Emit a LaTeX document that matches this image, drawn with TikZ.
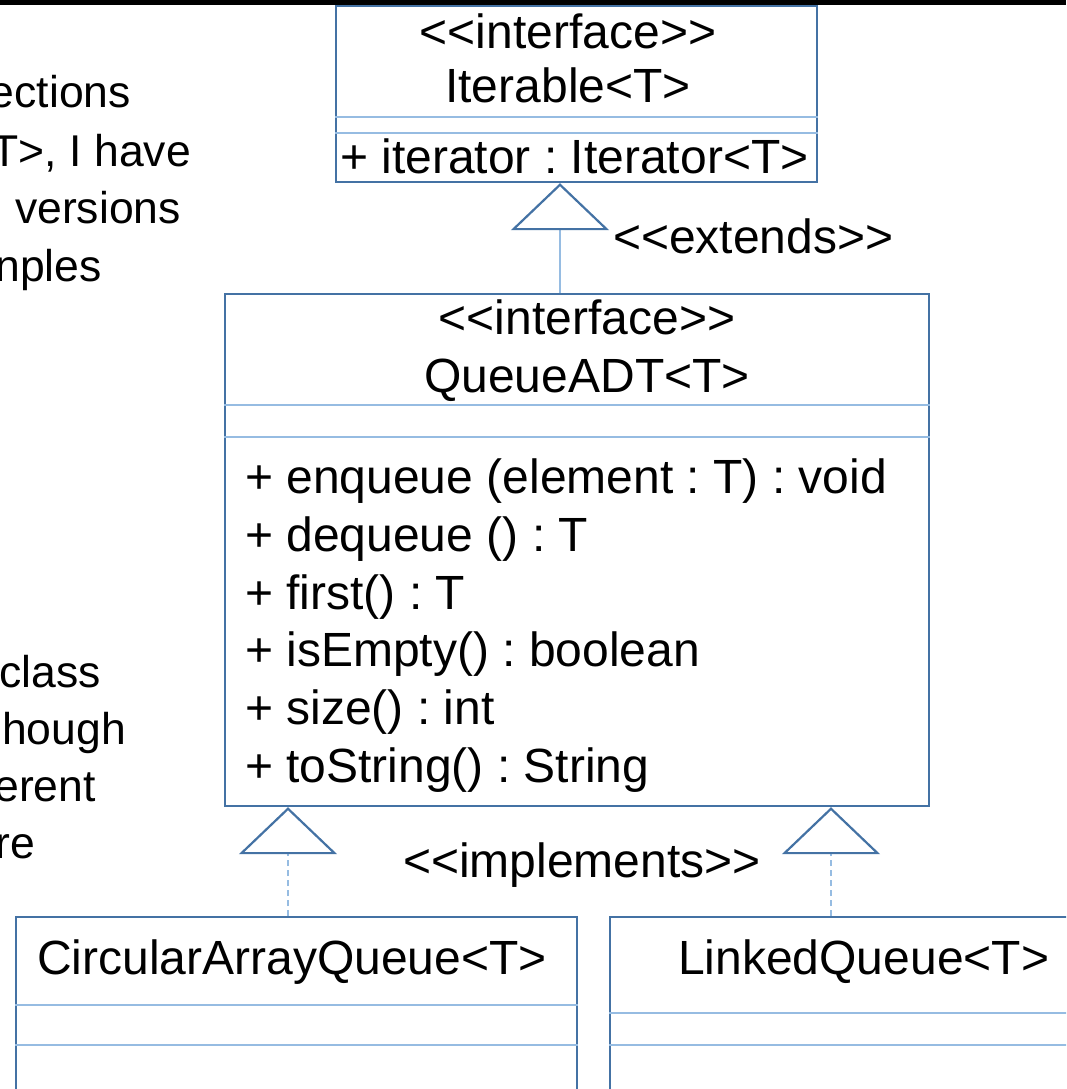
\documentclass[tikz,border=0pt]{standalone}
\usepackage{fontspec}
\setmainfont{Liberation Sans}
\usetikzlibrary{arrows.meta}
\definecolor{umlborder}{RGB}{68,114,164}
\definecolor{umlsep}{RGB}{150,188,226}
\frenchspacing
\begin{document}
\begin{tikzpicture}[x=1pt,y=-1pt,
  box/.style={draw=umlborder, line width=2.2pt, fill=white, rectangle, inner sep=0pt, anchor=north west},
  sepline/.style={draw=umlsep, line width=2pt},
  txt/.style={inner sep=0pt, font=\fontsize{48pt}{57.5pt}\selectfont},
  sidetxt/.style={inner sep=0pt, anchor=base east, font=\fontsize{44.5pt}{57.5pt}\selectfont},
  gen/.style={draw=umlsep, line width=2pt, -{Triangle[color=umlborder, fill=white, length=47pt, width=98pt, line width=2.2pt]}},
  real/.style={gen, dash pattern=on 6pt off 4pt, line width=1.5pt}
]
\useasboundingbox (0,0) rectangle (1066,1089);
\clip (0,0) rectangle (1066,1089);
\fill[white] (0,0) rectangle (1066,1089);
\fill[black] (0,0) rectangle (1066,5);

% left side text (cut off at the picture's edge)
\node[sidetxt] (l1) at (131,108) {ections};
\node[sidetxt] (l2) at (191,166) {T>, I have};
\node[sidetxt] (l3) at (181,223) {versions};
\node[sidetxt] (l4) at (102,281) {nples};
\node[sidetxt] (l5) at (101,687) {class};
\node[sidetxt] (l6) at (126,744) {hough};
\node[sidetxt] (l7) at (96,801) {erent};
\node[sidetxt] (l8) at (35,858) {re};

% Iterable
\node[box, minimum width=481pt, minimum height=176pt] (iter) at (335,5) {};
\coordinate (i1) at (0,117);
\coordinate (i2) at (0,133);
\draw[sepline] (iter.west |- i1) -- (iter.east |- i1);
\draw[sepline] (iter.west |- i2) -- (iter.east |- i2);
\node[txt, anchor=base] (is) at (568,49) {<{}<interface>{}>};
\node[txt, anchor=base] (in) at (568,103) {Iterable<T>};
\node[txt, anchor=base west] (im) at (340,173) {+ iterator : Iterator<T>};

% QueueADT
\node[box, minimum width=704pt, minimum height=512pt] (queue) at (224,293) {};
\coordinate (q1) at (0,405);
\coordinate (q2) at (0,437);
\draw[sepline] (queue.west |- q1) -- (queue.east |- q1);
\draw[sepline] (queue.west |- q2) -- (queue.east |- q2);
\node[txt, anchor=base] (qs) at (587,334) {<{}<interface>{}>};
\node[txt, anchor=base] (qn) at (587,392) {QueueADT<T>};
\node[txt, anchor=base west] (m1) at (245,493) {+ enqueue (element : T) : void};
\node[txt, anchor=base west] (m2) at (245,551) {+ dequeue () : T};
\node[txt, anchor=base west] (m3) at (245,609) {+ first() : T};
\node[txt, anchor=base west] (m4) at (245,666) {+ isEmpty() : boolean};
\node[txt, anchor=base west] (m5) at (245,724) {+ size() : int};
\node[txt, anchor=base west] (m6) at (245,782) {+ toString() : String};

% CircularArrayQueue
\node[box, minimum width=561pt, minimum height=200pt] (circ) at (15,916) {};
\coordinate (c1) at (0,1005);
\coordinate (c2) at (0,1045);
\draw[sepline] (circ.west |- c1) -- (circ.east |- c1);
\draw[sepline] (circ.west |- c2) -- (circ.east |- c2);
\node[txt, anchor=base west] (cn) at (37,974) {CircularArrayQueue<T>};

% LinkedQueue
\node[box, minimum width=480pt, minimum height=200pt] (linked) at (609,916) {};
\coordinate (k1) at (0,1013);
\coordinate (k2) at (0,1045);
\draw[sepline] (linked.west |- k1) -- (linked.east |- k1);
\draw[sepline] (linked.west |- k2) -- (linked.east |- k2);
\node[txt, anchor=base west] (kn) at (678,974) {LinkedQueue<T>};

% connectors
\coordinate (xa) at (560,0);
\coordinate (xb) at (288,0);
\coordinate (xc) at (831,0);
\draw[gen] (queue.north -| xa) -- (iter.south -| xa);
\draw[real] (circ.north -| xb) -- (queue.south -| xb);
\draw[real] (linked.north -| xc) -- (queue.south -| xc);

\node[txt, anchor=base west] (ext) at (613,253) {<{}<extends>{}>};
\node[txt, anchor=base] (impl) at (582,877) {<{}<implements>{}>};
\end{tikzpicture}
\end{document}
